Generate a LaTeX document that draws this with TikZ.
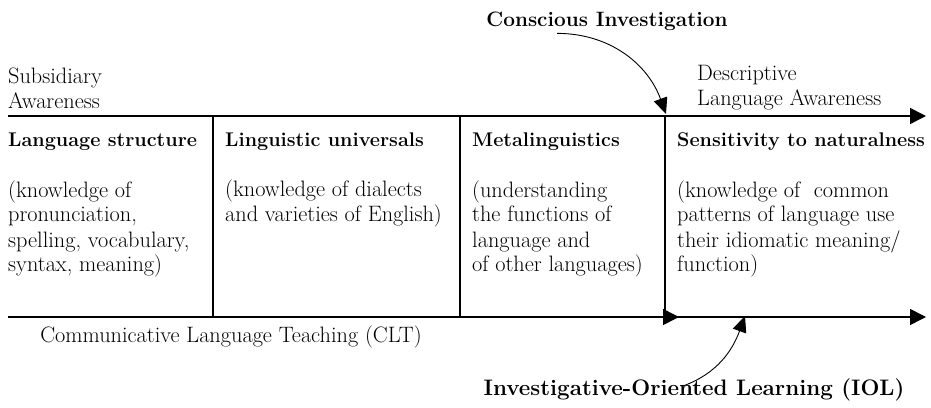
\documentclass[tikz,border=0pt]{standalone}
\usepackage{fontspec}
\usetikzlibrary{arrows.meta}

\begin{document}
\begin{tikzpicture}[x=1pt,y=1pt,
		txt/.style={inner sep=0pt,anchor=base west,align=left,font=\fontsize{22.3}{25}\selectfont},
		head/.style={inner sep=0pt,anchor=base west,font=\fontsize{19.8}{23}\selectfont\bfseries},
		label/.style={inner sep=0pt,anchor=base,font=\fontsize{20.8}{24}\selectfont\bfseries},
		axis/.style={line width=1.5pt},
		tip/.style={-{Triangle[length=16pt,width=16pt]}},
		bendarrow/.style={line width=0.9pt,-{Triangle[length=16pt,width=14pt]}}]
	\useasboundingbox (0,0) rectangle (931,407);

	% axes
	\draw[axis,tip] (8,291) -- (926,291);
	\draw[axis,tip] (8,90) -- (679,90);
	\draw[axis,tip] (665,90) -- (926,90);
	\foreach \x in {213,460,665}
		\draw[axis] (\x,291) -- (\x,90);

	% base of a multi-line node = its last line
	\node[txt]	(sub)	at (8,298)	{Subsidiary\\Awareness};
	\node[txt]	(dla)	at (697,301)	{Descriptive\\Language Awareness};
	\node[txt,anchor=base]	(clt)	at (231,65)	{Communicative Language Teaching (CLT)};

	% columns
	\node[head]	(hd1)	at (8,260)	{Language structure};
	\node[head]	(hd2)	at (225,260)	{Linguistic universals};
	\node[head]	(hd3)	at (472,260)	{Metalinguistics};
	\node[head]	(hd4)	at (677,260)	{Sensitivity to naturalness};

	\node[txt]	(bd1)	at (8,135)	{(knowledge of\\pronunciation,\\spelling, vocabulary,\\syntax, meaning)};
	\node[txt]	(bd2)	at (225,185)	{(knowledge of dialects\\and varieties of English)};
	\node[txt]	(bd3)	at (472,135)	{(understanding\\the functions of\\language and\\of other languages)};
	\node[txt]	(bd4)	at (677,135)	{(knowledge of~ common\\patterns of language use\\their idiomatic meaning/\\function)};

	% curved arrows
	\node[label]	(ci)	at (607,380)	{Conscious Investigation};
	\node[label,font=\fontsize{22.4}{26}\selectfont\bfseries]	(iol)	at (694,12)	{Investigative-Oriented Learning (IOL)};
	\coordinate	(j1)	at (666,293);
	\coordinate	(j2)	at (745,91);

	\draw[bendarrow] ([xshift=-50pt,yshift=-2pt]ci.south) to[out=0,in=110] (j1);
	\draw[bendarrow] ([xshift=-11pt,yshift=-8pt]iol.north) to[out=20,in=-110] (j2);
\end{tikzpicture}
\end{document}
